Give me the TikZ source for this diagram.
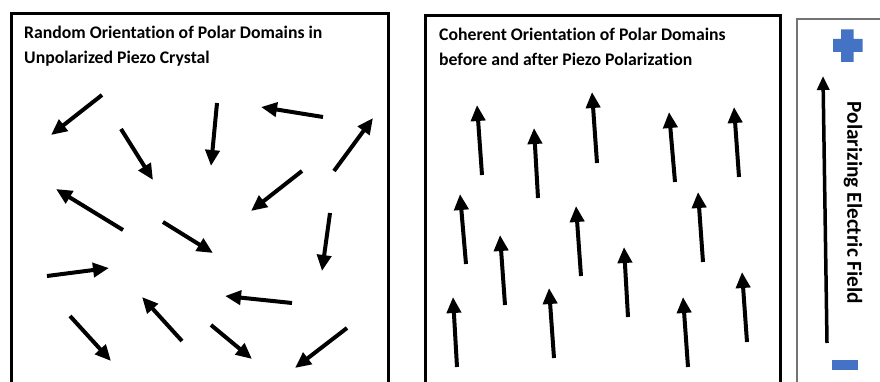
\documentclass[tikz,border=0pt]{standalone}
\usepackage{fontspec}
\setmainfont{Carlito}[Ligatures=NoCommon]
\usetikzlibrary{arrows.meta}
\definecolor{officeblue}{HTML}{4472C4}
\tikzset{
  frame/.style={draw=black, line width=3pt},
  thinframe/.style={draw=black!55, line width=1.2pt},
  dom/.style={line width=4pt, -{Triangle[length=16pt,width=14pt]}},
  field/.style={line width=3.5pt, -{Triangle[length=14pt,width=12pt]}},
  ttl/.style={anchor=base west, inner sep=0pt, font=\bfseries\fontsize{17.7}{20}\selectfont},
}
\begin{document}
\begin{tikzpicture}[x=1pt,y=-1pt]
\useasboundingbox (0,0) rectangle (880,382);
\clip (0,0) rectangle (880,382);
\fill[white] (0,0) rectangle (880,382);
% frames
\draw[frame] (11.5,395) -- (11.5,13.5) -- (388.5,13.5) -- (388.5,395);
\draw[frame] (425,395) -- (425,15.3) -- (780,15.3) -- (780,395);
\draw[thinframe] (797,395) -- (797,19) -- (890,19);
% titles
\node[ttl] (t1a) at (24,39) {Random Orientation of Polar Domains in};
\node[ttl] (t1b) at (24,64) {Unpolarized Piezo Crystal};
\node[ttl] (t2a) at (439,41) {Coherent Orientation of Polar Domains};
\node[ttl] (t2b) at (439,66) {before and after Piezo Polarization};
% random domains
\draw[dom] (102,95) -- (51,135);
\draw[dom] (121,129) -- (153,180);
\draw[dom] (217,103) -- (211,166);
\draw[dom] (323,117) -- (261,107);
\draw[dom] (334,171) -- (373,118);
\draw[dom] (302,171) -- (251,211);
\draw[dom] (123,230) -- (56,189);
\draw[dom] (163,222) -- (213,253);
\draw[dom] (330,213) -- (322,271);
\draw[dom] (47,276) -- (109,268);
\draw[dom] (292,303) -- (225,296);
\draw[dom] (182,341) -- (142,297);
\draw[dom] (70,316) -- (111,361);
\draw[dom] (211,325) -- (252,359);
\draw[dom] (347,328) -- (295,368);
% coherent domains
\draw[dom] (482,175) -- (477,105);
\draw[dom] (538,198) -- (534,128);
\draw[dom] (597,163) -- (592,92);
\draw[dom] (675,182) -- (669,112);
\draw[dom] (739,177) -- (734,107);
\draw[dom] (466,264) -- (460,194);
\draw[dom] (505,305) -- (500,235);
\draw[dom] (581,276) -- (576,206);
\draw[dom] (703,262) -- (698,192);
\draw[dom] (628,317) -- (624,247);
\draw[dom] (457,367) -- (453,297);
\draw[dom] (554,358) -- (549,288);
\draw[dom] (688,367) -- (683,297);
\draw[dom] (747,342) -- (742,272);
% field panel
\fill[officeblue] (841,29.5) -- (853.5,29.5) -- (853.5,39) -- (862.5,39) -- (862.5,52)
  -- (853.5,52) -- (853.5,62) -- (841,62) -- (841,52) -- (833,52) -- (833,39) -- (841,39) -- cycle;
\fill[officeblue] (832,360) rectangle (858,370);
\coordinate (fbot) at (827,343);
\coordinate (ftop) at (823,76);
\draw[field] (fbot) -- (ftop);
\node[rotate=-90, inner sep=0pt, font=\bfseries\fontsize{21.3}{24}\selectfont] (flabel) at (853,203) {Polarizing Electric Field};
\end{tikzpicture}
\end{document}
